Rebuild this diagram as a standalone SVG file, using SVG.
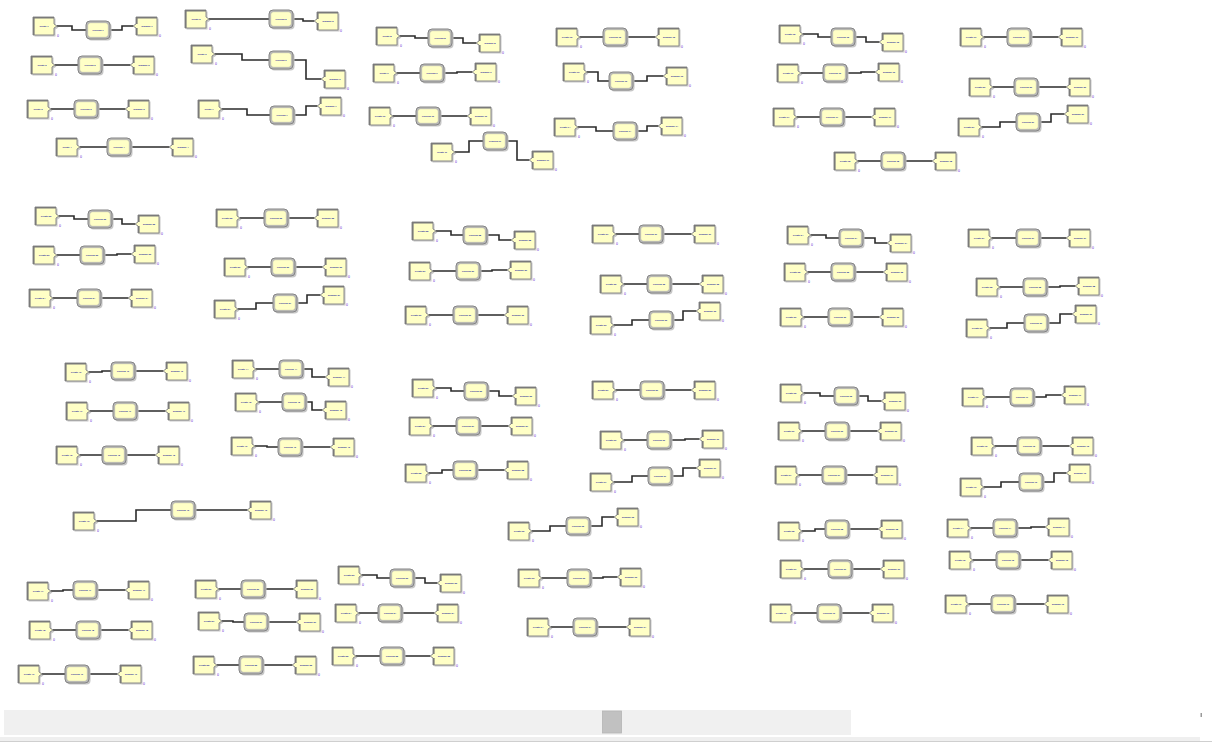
<svg xmlns="http://www.w3.org/2000/svg" xmlns:xlink="http://www.w3.org/1999/xlink" width="1212" height="742" viewBox="0 0 1212 742">
<style>
.nd text{font-family:"Liberation Sans",Arial,sans-serif;font-size:2.3px;font-weight:bold;fill:#23239a;text-anchor:middle}
.cnt{font-family:"Liberation Sans",Arial,sans-serif;font-size:3.5px;fill:#5a2ad0}
#connectors path{fill:none;stroke:#2b2b2b;stroke-width:1.6}
</style>
<defs>
<g id="cr">
<polygon points="1.5,1.5 22.5,1.5 22.5,8.5 25.5,10.5 22.5,12.5 22.5,19.5 1.5,19.5" fill="#c6c6c6"/>
<polygon points="0,0 21,0 21,7 24,9 21,11 21,18 0,18" fill="#ffffc6" stroke="#8c8c8c" stroke-width="1"/>
<path d="M0.8,18V0.8H21" fill="none" stroke="#7a7a7a" stroke-width="1.6"/>
<text class="cnt" x="24" y="20">0</text>
</g>
<g id="pr">
<rect x="1.5" y="1.5" width="24" height="18" rx="4" fill="#c6c6c6"/>
<rect x="0" y="0" width="24" height="18" rx="4" fill="#bababa" stroke="#858585" stroke-width="1"/>
<rect x="1.7" y="1.7" width="20.6" height="14.6" rx="3" fill="#ffffc6" stroke="#a0a0a0" stroke-width="0.5"/>
</g>
<g id="dp">
<polygon points="4.5,1.5 25.5,1.5 25.5,19.5 4.5,19.5" fill="#c6c6c6"/>
<polygon points="3,0 24,0 24,18 3,18 3,11 0,9 3,7" fill="#ffffc6" stroke="#8c8c8c" stroke-width="1"/>
<path d="M3.8,18V11M3.8,7V0.8H24" fill="none" stroke="#7a7a7a" stroke-width="1.6"/>
<text class="cnt" x="26" y="20">0</text>
</g>
</defs>
<rect width="1212" height="742" fill="#fff"/>
<g id="connectors">
<path d="M57,26H72V30H86M110,30H122V26H133"/>
<path d="M55,65H78M102,65H130"/>
<path d="M51,109H74M98,109H125"/>
<path d="M80,147H107M131,147H169"/>
<path d="M209,19H269M293,19H303V21H314"/>
<path d="M215,54H242V60H269M293,60H306V79H321"/>
<path d="M222,109H247V115H270M294,115H306V106H317"/>
<path d="M400,36H415V38H428M452,38H463V43H476"/>
<path d="M397,73H420M444,73H457V72H472"/>
<path d="M393,116H416M440,116H467"/>
<path d="M455,152H469V141H483M507,141H517V160H529"/>
<path d="M580,37H603M627,37H655"/>
<path d="M587,72H598V81H609M633,81H647V76H663"/>
<path d="M578,127H596V131H613M637,131H647V126H658"/>
<path d="M803,34H818V37H831M855,37H866V42H879"/>
<path d="M801,73H823M847,73H861V72H875"/>
<path d="M797,117H820M844,117H871"/>
<path d="M858,161H881M905,161H932"/>
<path d="M984,37H1007M1031,37H1058"/>
<path d="M993,87H1014M1038,87H1066"/>
<path d="M982,127H1000V122H1016M1040,122H1051V114H1064"/>
<path d="M59,216H74V219H88M112,219H122V224H135"/>
<path d="M57,255H80M104,255H117V254H131"/>
<path d="M53,298H77M101,298H128"/>
<path d="M240,218H264M288,218H314"/>
<path d="M248,267H271M295,267H322"/>
<path d="M238,309H256V303H273M297,303H307V295H320"/>
<path d="M436,231H451V235H463M487,235H499V240H511"/>
<path d="M433,271H456M480,271H492V270H507"/>
<path d="M429,315H453M477,315H504"/>
<path d="M616,234H639M663,234H691"/>
<path d="M624,284H647M671,284H699"/>
<path d="M614,325H632V320H649M673,320H683V311H696"/>
<path d="M811,235H826V238H839M863,238H875V243H887"/>
<path d="M808,272H831M855,272H883"/>
<path d="M804,317H828M852,317H879"/>
<path d="M992,238H1016M1040,238H1066"/>
<path d="M1000,287H1023M1047,287H1060V286H1075"/>
<path d="M990,328H1007V323H1024M1048,323H1060V314H1072"/>
<path d="M89,372H102V371H111M135,371H163"/>
<path d="M90,411H113M137,411H165"/>
<path d="M80,455H102M126,455H155"/>
<path d="M97,521H136V510H171M195,510H247"/>
<path d="M256,369H279M303,369H312V377H325"/>
<path d="M259,402H282M306,402H312V410H322"/>
<path d="M255,446H267V447H278M302,447H330"/>
<path d="M51,591H63V590H73M97,590H125"/>
<path d="M53,630H76M100,630H128"/>
<path d="M42,674H65M89,674H117"/>
<path d="M219,589H241M265,589H293"/>
<path d="M222,621H233V622H244M268,622H296"/>
<path d="M217,665H239M263,665H292"/>
<path d="M362,575H377V578H390M414,578H425V583H437"/>
<path d="M359,613H378M402,613H434"/>
<path d="M356,656H380M404,656H430"/>
<path d="M436,388H451V391H464M488,391H499V396H512"/>
<path d="M433,426H456M480,426H508"/>
<path d="M429,473H442V470H453M477,470H504"/>
<path d="M616,390H640M664,390H691"/>
<path d="M624,440H647M671,440H685V439H699"/>
<path d="M614,482H632V476H648M672,476H683V468H696"/>
<path d="M532,531H550V526H566M590,526H602V517H614"/>
<path d="M542,578H567M591,578H603V577H617"/>
<path d="M551,627H573M597,627H626"/>
<path d="M804,393H820V396H834M858,396H868V401H881"/>
<path d="M802,431H825M849,431H877"/>
<path d="M799,475H822M846,475H873"/>
<path d="M802,531H815V529H825M849,529H878"/>
<path d="M804,569H828M852,569H880"/>
<path d="M794,613H817M841,613H869"/>
<path d="M986,397H1010M1034,397H1046V395H1061"/>
<path d="M995,446H1017M1041,446H1069"/>
<path d="M984,487H1001V482H1019M1043,482H1054V473H1066"/>
<path d="M971,528H993M1017,528H1031V527H1045"/>
<path d="M973,560H996M1020,560H1048"/>
<path d="M969,604H991M1015,604H1044"/>
</g>
<g class="nd">
<g id="create1" transform="translate(33,17)"><use href="#cr"/><text x="11" y="9.5">Create 1</text></g>
<g id="process1" transform="translate(86,21)"><use href="#pr"/><text x="12" y="9.5">Process 1</text></g>
<g id="dispose1" transform="translate(133,17)"><use href="#dp"/><text x="14" y="9.5">Dispose 1</text></g>
<g id="create2" transform="translate(31,56)"><use href="#cr"/><text x="11" y="9.5">Create 2</text></g>
<g id="process2" transform="translate(78,56)"><use href="#pr"/><text x="12" y="9.5">Process 2</text></g>
<g id="dispose2" transform="translate(130,56)"><use href="#dp"/><text x="14" y="9.5">Dispose 2</text></g>
<g id="create3" transform="translate(27,100)"><use href="#cr"/><text x="11" y="9.5">Create 3</text></g>
<g id="process3" transform="translate(74,100)"><use href="#pr"/><text x="12" y="9.5">Process 3</text></g>
<g id="dispose3" transform="translate(125,100)"><use href="#dp"/><text x="14" y="9.5">Dispose 3</text></g>
<g id="create4" transform="translate(56,138)"><use href="#cr"/><text x="11" y="9.5">Create 4</text></g>
<g id="process4" transform="translate(107,138)"><use href="#pr"/><text x="12" y="9.5">Process 4</text></g>
<g id="dispose4" transform="translate(169,138)"><use href="#dp"/><text x="14" y="9.5">Dispose 4</text></g>
<g id="create5" transform="translate(185,10)"><use href="#cr"/><text x="11" y="9.5">Create 5</text></g>
<g id="process5" transform="translate(269,10)"><use href="#pr"/><text x="12" y="9.5">Process 5</text></g>
<g id="dispose5" transform="translate(314,12)"><use href="#dp"/><text x="14" y="9.5">Dispose 5</text></g>
<g id="create6" transform="translate(191,45)"><use href="#cr"/><text x="11" y="9.5">Create 6</text></g>
<g id="process6" transform="translate(269,51)"><use href="#pr"/><text x="12" y="9.5">Process 6</text></g>
<g id="dispose6" transform="translate(321,70)"><use href="#dp"/><text x="14" y="9.5">Dispose 6</text></g>
<g id="create7" transform="translate(198,100)"><use href="#cr"/><text x="11" y="9.5">Create 7</text></g>
<g id="process7" transform="translate(270,106)"><use href="#pr"/><text x="12" y="9.5">Process 7</text></g>
<g id="dispose7" transform="translate(317,97)"><use href="#dp"/><text x="14" y="9.5">Dispose 7</text></g>
<g id="create8" transform="translate(376,27)"><use href="#cr"/><text x="11" y="9.5">Create 8</text></g>
<g id="process8" transform="translate(428,29)"><use href="#pr"/><text x="12" y="9.5">Process 8</text></g>
<g id="dispose8" transform="translate(476,34)"><use href="#dp"/><text x="14" y="9.5">Dispose 8</text></g>
<g id="create9" transform="translate(373,64)"><use href="#cr"/><text x="11" y="9.5">Create 9</text></g>
<g id="process9" transform="translate(420,64)"><use href="#pr"/><text x="12" y="9.5">Process 9</text></g>
<g id="dispose9" transform="translate(472,63)"><use href="#dp"/><text x="14" y="9.5">Dispose 9</text></g>
<g id="create10" transform="translate(369,107)"><use href="#cr"/><text x="11" y="9.5">Create 10</text></g>
<g id="process10" transform="translate(416,107)"><use href="#pr"/><text x="12" y="9.5">Process 10</text></g>
<g id="dispose10" transform="translate(467,107)"><use href="#dp"/><text x="14" y="9.5">Dispose 10</text></g>
<g id="create11" transform="translate(431,143)"><use href="#cr"/><text x="11" y="9.5">Create 11</text></g>
<g id="process11" transform="translate(483,132)"><use href="#pr"/><text x="12" y="9.5">Process 11</text></g>
<g id="dispose11" transform="translate(529,151)"><use href="#dp"/><text x="14" y="9.5">Dispose 11</text></g>
<g id="create12" transform="translate(556,28)"><use href="#cr"/><text x="11" y="9.5">Create 12</text></g>
<g id="process12" transform="translate(603,28)"><use href="#pr"/><text x="12" y="9.5">Process 12</text></g>
<g id="dispose12" transform="translate(655,28)"><use href="#dp"/><text x="14" y="9.5">Dispose 12</text></g>
<g id="create13" transform="translate(563,63)"><use href="#cr"/><text x="11" y="9.5">Create 13</text></g>
<g id="process13" transform="translate(609,72)"><use href="#pr"/><text x="12" y="9.5">Process 13</text></g>
<g id="dispose13" transform="translate(663,67)"><use href="#dp"/><text x="14" y="9.5">Dispose 13</text></g>
<g id="create14" transform="translate(554,118)"><use href="#cr"/><text x="11" y="9.5">Create 14</text></g>
<g id="process14" transform="translate(613,122)"><use href="#pr"/><text x="12" y="9.5">Process 14</text></g>
<g id="dispose14" transform="translate(658,117)"><use href="#dp"/><text x="14" y="9.5">Dispose 14</text></g>
<g id="create15" transform="translate(779,25)"><use href="#cr"/><text x="11" y="9.5">Create 15</text></g>
<g id="process15" transform="translate(831,28)"><use href="#pr"/><text x="12" y="9.5">Process 15</text></g>
<g id="dispose15" transform="translate(879,33)"><use href="#dp"/><text x="14" y="9.5">Dispose 15</text></g>
<g id="create16" transform="translate(777,64)"><use href="#cr"/><text x="11" y="9.5">Create 16</text></g>
<g id="process16" transform="translate(823,64)"><use href="#pr"/><text x="12" y="9.5">Process 16</text></g>
<g id="dispose16" transform="translate(875,63)"><use href="#dp"/><text x="14" y="9.5">Dispose 16</text></g>
<g id="create17" transform="translate(773,108)"><use href="#cr"/><text x="11" y="9.5">Create 17</text></g>
<g id="process17" transform="translate(820,108)"><use href="#pr"/><text x="12" y="9.5">Process 17</text></g>
<g id="dispose17" transform="translate(871,108)"><use href="#dp"/><text x="14" y="9.5">Dispose 17</text></g>
<g id="create18" transform="translate(834,152)"><use href="#cr"/><text x="11" y="9.5">Create 18</text></g>
<g id="process18" transform="translate(881,152)"><use href="#pr"/><text x="12" y="9.5">Process 18</text></g>
<g id="dispose18" transform="translate(932,152)"><use href="#dp"/><text x="14" y="9.5">Dispose 18</text></g>
<g id="create19" transform="translate(960,28)"><use href="#cr"/><text x="11" y="9.5">Create 19</text></g>
<g id="process19" transform="translate(1007,28)"><use href="#pr"/><text x="12" y="9.5">Process 19</text></g>
<g id="dispose19" transform="translate(1058,28)"><use href="#dp"/><text x="14" y="9.5">Dispose 19</text></g>
<g id="create20" transform="translate(969,78)"><use href="#cr"/><text x="11" y="9.5">Create 20</text></g>
<g id="process20" transform="translate(1014,78)"><use href="#pr"/><text x="12" y="9.5">Process 20</text></g>
<g id="dispose20" transform="translate(1066,78)"><use href="#dp"/><text x="14" y="9.5">Dispose 20</text></g>
<g id="create21" transform="translate(958,118)"><use href="#cr"/><text x="11" y="9.5">Create 21</text></g>
<g id="process21" transform="translate(1016,113)"><use href="#pr"/><text x="12" y="9.5">Process 21</text></g>
<g id="dispose21" transform="translate(1064,105)"><use href="#dp"/><text x="14" y="9.5">Dispose 21</text></g>
<g id="create22" transform="translate(35,207)"><use href="#cr"/><text x="11" y="9.5">Create 22</text></g>
<g id="process22" transform="translate(88,210)"><use href="#pr"/><text x="12" y="9.5">Process 22</text></g>
<g id="dispose22" transform="translate(135,215)"><use href="#dp"/><text x="14" y="9.5">Dispose 22</text></g>
<g id="create23" transform="translate(33,246)"><use href="#cr"/><text x="11" y="9.5">Create 23</text></g>
<g id="process23" transform="translate(80,246)"><use href="#pr"/><text x="12" y="9.5">Process 23</text></g>
<g id="dispose23" transform="translate(131,245)"><use href="#dp"/><text x="14" y="9.5">Dispose 23</text></g>
<g id="create24" transform="translate(29,289)"><use href="#cr"/><text x="11" y="9.5">Create 24</text></g>
<g id="process24" transform="translate(77,289)"><use href="#pr"/><text x="12" y="9.5">Process 24</text></g>
<g id="dispose24" transform="translate(128,289)"><use href="#dp"/><text x="14" y="9.5">Dispose 24</text></g>
<g id="create25" transform="translate(216,209)"><use href="#cr"/><text x="11" y="9.5">Create 25</text></g>
<g id="process25" transform="translate(264,209)"><use href="#pr"/><text x="12" y="9.5">Process 25</text></g>
<g id="dispose25" transform="translate(314,209)"><use href="#dp"/><text x="14" y="9.5">Dispose 25</text></g>
<g id="create26" transform="translate(224,258)"><use href="#cr"/><text x="11" y="9.5">Create 26</text></g>
<g id="process26" transform="translate(271,258)"><use href="#pr"/><text x="12" y="9.5">Process 26</text></g>
<g id="dispose26" transform="translate(322,258)"><use href="#dp"/><text x="14" y="9.5">Dispose 26</text></g>
<g id="create27" transform="translate(214,300)"><use href="#cr"/><text x="11" y="9.5">Create 27</text></g>
<g id="process27" transform="translate(273,294)"><use href="#pr"/><text x="12" y="9.5">Process 27</text></g>
<g id="dispose27" transform="translate(320,286)"><use href="#dp"/><text x="14" y="9.5">Dispose 27</text></g>
<g id="create28" transform="translate(412,222)"><use href="#cr"/><text x="11" y="9.5">Create 28</text></g>
<g id="process28" transform="translate(463,226)"><use href="#pr"/><text x="12" y="9.5">Process 28</text></g>
<g id="dispose28" transform="translate(511,231)"><use href="#dp"/><text x="14" y="9.5">Dispose 28</text></g>
<g id="create29" transform="translate(409,262)"><use href="#cr"/><text x="11" y="9.5">Create 29</text></g>
<g id="process29" transform="translate(456,262)"><use href="#pr"/><text x="12" y="9.5">Process 29</text></g>
<g id="dispose29" transform="translate(507,261)"><use href="#dp"/><text x="14" y="9.5">Dispose 29</text></g>
<g id="create30" transform="translate(405,306)"><use href="#cr"/><text x="11" y="9.5">Create 30</text></g>
<g id="process30" transform="translate(453,306)"><use href="#pr"/><text x="12" y="9.5">Process 30</text></g>
<g id="dispose30" transform="translate(504,306)"><use href="#dp"/><text x="14" y="9.5">Dispose 30</text></g>
<g id="create31" transform="translate(592,225)"><use href="#cr"/><text x="11" y="9.5">Create 31</text></g>
<g id="process31" transform="translate(639,225)"><use href="#pr"/><text x="12" y="9.5">Process 31</text></g>
<g id="dispose31" transform="translate(691,225)"><use href="#dp"/><text x="14" y="9.5">Dispose 31</text></g>
<g id="create32" transform="translate(600,275)"><use href="#cr"/><text x="11" y="9.5">Create 32</text></g>
<g id="process32" transform="translate(647,275)"><use href="#pr"/><text x="12" y="9.5">Process 32</text></g>
<g id="dispose32" transform="translate(699,275)"><use href="#dp"/><text x="14" y="9.5">Dispose 32</text></g>
<g id="create33" transform="translate(590,316)"><use href="#cr"/><text x="11" y="9.5">Create 33</text></g>
<g id="process33" transform="translate(649,311)"><use href="#pr"/><text x="12" y="9.5">Process 33</text></g>
<g id="dispose33" transform="translate(696,302)"><use href="#dp"/><text x="14" y="9.5">Dispose 33</text></g>
<g id="create34" transform="translate(787,226)"><use href="#cr"/><text x="11" y="9.5">Create 34</text></g>
<g id="process34" transform="translate(839,229)"><use href="#pr"/><text x="12" y="9.5">Process 34</text></g>
<g id="dispose34" transform="translate(887,234)"><use href="#dp"/><text x="14" y="9.5">Dispose 34</text></g>
<g id="create35" transform="translate(784,263)"><use href="#cr"/><text x="11" y="9.5">Create 35</text></g>
<g id="process35" transform="translate(831,263)"><use href="#pr"/><text x="12" y="9.5">Process 35</text></g>
<g id="dispose35" transform="translate(883,263)"><use href="#dp"/><text x="14" y="9.5">Dispose 35</text></g>
<g id="create36" transform="translate(780,308)"><use href="#cr"/><text x="11" y="9.5">Create 36</text></g>
<g id="process36" transform="translate(828,308)"><use href="#pr"/><text x="12" y="9.5">Process 36</text></g>
<g id="dispose36" transform="translate(879,308)"><use href="#dp"/><text x="14" y="9.5">Dispose 36</text></g>
<g id="create37" transform="translate(968,229)"><use href="#cr"/><text x="11" y="9.5">Create 37</text></g>
<g id="process37" transform="translate(1016,229)"><use href="#pr"/><text x="12" y="9.5">Process 37</text></g>
<g id="dispose37" transform="translate(1066,229)"><use href="#dp"/><text x="14" y="9.5">Dispose 37</text></g>
<g id="create38" transform="translate(976,278)"><use href="#cr"/><text x="11" y="9.5">Create 38</text></g>
<g id="process38" transform="translate(1023,278)"><use href="#pr"/><text x="12" y="9.5">Process 38</text></g>
<g id="dispose38" transform="translate(1075,277)"><use href="#dp"/><text x="14" y="9.5">Dispose 38</text></g>
<g id="create39" transform="translate(966,319)"><use href="#cr"/><text x="11" y="9.5">Create 39</text></g>
<g id="process39" transform="translate(1024,314)"><use href="#pr"/><text x="12" y="9.5">Process 39</text></g>
<g id="dispose39" transform="translate(1072,305)"><use href="#dp"/><text x="14" y="9.5">Dispose 39</text></g>
<g id="create40" transform="translate(65,363)"><use href="#cr"/><text x="11" y="9.5">Create 40</text></g>
<g id="process40" transform="translate(111,362)"><use href="#pr"/><text x="12" y="9.5">Process 40</text></g>
<g id="dispose40" transform="translate(163,362)"><use href="#dp"/><text x="14" y="9.5">Dispose 40</text></g>
<g id="create41" transform="translate(66,402)"><use href="#cr"/><text x="11" y="9.5">Create 41</text></g>
<g id="process41" transform="translate(113,402)"><use href="#pr"/><text x="12" y="9.5">Process 41</text></g>
<g id="dispose41" transform="translate(165,402)"><use href="#dp"/><text x="14" y="9.5">Dispose 41</text></g>
<g id="create42" transform="translate(56,446)"><use href="#cr"/><text x="11" y="9.5">Create 42</text></g>
<g id="process42" transform="translate(102,446)"><use href="#pr"/><text x="12" y="9.5">Process 42</text></g>
<g id="dispose42" transform="translate(155,446)"><use href="#dp"/><text x="14" y="9.5">Dispose 42</text></g>
<g id="create43" transform="translate(73,512)"><use href="#cr"/><text x="11" y="9.5">Create 43</text></g>
<g id="process43" transform="translate(171,501)"><use href="#pr"/><text x="12" y="9.5">Process 43</text></g>
<g id="dispose43" transform="translate(247,501)"><use href="#dp"/><text x="14" y="9.5">Dispose 43</text></g>
<g id="create44" transform="translate(232,360)"><use href="#cr"/><text x="11" y="9.5">Create 44</text></g>
<g id="process44" transform="translate(279,360)"><use href="#pr"/><text x="12" y="9.5">Process 44</text></g>
<g id="dispose44" transform="translate(325,368)"><use href="#dp"/><text x="14" y="9.5">Dispose 44</text></g>
<g id="create45" transform="translate(235,393)"><use href="#cr"/><text x="11" y="9.5">Create 45</text></g>
<g id="process45" transform="translate(282,393)"><use href="#pr"/><text x="12" y="9.5">Process 45</text></g>
<g id="dispose45" transform="translate(322,401)"><use href="#dp"/><text x="14" y="9.5">Dispose 45</text></g>
<g id="create46" transform="translate(231,437)"><use href="#cr"/><text x="11" y="9.5">Create 46</text></g>
<g id="process46" transform="translate(278,438)"><use href="#pr"/><text x="12" y="9.5">Process 46</text></g>
<g id="dispose46" transform="translate(330,438)"><use href="#dp"/><text x="14" y="9.5">Dispose 46</text></g>
<g id="create47" transform="translate(27,582)"><use href="#cr"/><text x="11" y="9.5">Create 47</text></g>
<g id="process47" transform="translate(73,581)"><use href="#pr"/><text x="12" y="9.5">Process 47</text></g>
<g id="dispose47" transform="translate(125,581)"><use href="#dp"/><text x="14" y="9.5">Dispose 47</text></g>
<g id="create48" transform="translate(29,621)"><use href="#cr"/><text x="11" y="9.5">Create 48</text></g>
<g id="process48" transform="translate(76,621)"><use href="#pr"/><text x="12" y="9.5">Process 48</text></g>
<g id="dispose48" transform="translate(128,621)"><use href="#dp"/><text x="14" y="9.5">Dispose 48</text></g>
<g id="create49" transform="translate(18,665)"><use href="#cr"/><text x="11" y="9.5">Create 49</text></g>
<g id="process49" transform="translate(65,665)"><use href="#pr"/><text x="12" y="9.5">Process 49</text></g>
<g id="dispose49" transform="translate(117,665)"><use href="#dp"/><text x="14" y="9.5">Dispose 49</text></g>
<g id="create50" transform="translate(195,580)"><use href="#cr"/><text x="11" y="9.5">Create 50</text></g>
<g id="process50" transform="translate(241,580)"><use href="#pr"/><text x="12" y="9.5">Process 50</text></g>
<g id="dispose50" transform="translate(293,580)"><use href="#dp"/><text x="14" y="9.5">Dispose 50</text></g>
<g id="create51" transform="translate(198,612)"><use href="#cr"/><text x="11" y="9.5">Create 51</text></g>
<g id="process51" transform="translate(244,613)"><use href="#pr"/><text x="12" y="9.5">Process 51</text></g>
<g id="dispose51" transform="translate(296,613)"><use href="#dp"/><text x="14" y="9.5">Dispose 51</text></g>
<g id="create52" transform="translate(193,656)"><use href="#cr"/><text x="11" y="9.5">Create 52</text></g>
<g id="process52" transform="translate(239,656)"><use href="#pr"/><text x="12" y="9.5">Process 52</text></g>
<g id="dispose52" transform="translate(292,656)"><use href="#dp"/><text x="14" y="9.5">Dispose 52</text></g>
<g id="create53" transform="translate(338,566)"><use href="#cr"/><text x="11" y="9.5">Create 53</text></g>
<g id="process53" transform="translate(390,569)"><use href="#pr"/><text x="12" y="9.5">Process 53</text></g>
<g id="dispose53" transform="translate(437,574)"><use href="#dp"/><text x="14" y="9.5">Dispose 53</text></g>
<g id="create54" transform="translate(335,604)"><use href="#cr"/><text x="11" y="9.5">Create 54</text></g>
<g id="process54" transform="translate(378,604)"><use href="#pr"/><text x="12" y="9.5">Process 54</text></g>
<g id="dispose54" transform="translate(434,604)"><use href="#dp"/><text x="14" y="9.5">Dispose 54</text></g>
<g id="create55" transform="translate(332,647)"><use href="#cr"/><text x="11" y="9.5">Create 55</text></g>
<g id="process55" transform="translate(380,647)"><use href="#pr"/><text x="12" y="9.5">Process 55</text></g>
<g id="dispose55" transform="translate(430,647)"><use href="#dp"/><text x="14" y="9.5">Dispose 55</text></g>
<g id="create56" transform="translate(412,379)"><use href="#cr"/><text x="11" y="9.5">Create 56</text></g>
<g id="process56" transform="translate(464,382)"><use href="#pr"/><text x="12" y="9.5">Process 56</text></g>
<g id="dispose56" transform="translate(512,387)"><use href="#dp"/><text x="14" y="9.5">Dispose 56</text></g>
<g id="create57" transform="translate(409,417)"><use href="#cr"/><text x="11" y="9.5">Create 57</text></g>
<g id="process57" transform="translate(456,417)"><use href="#pr"/><text x="12" y="9.5">Process 57</text></g>
<g id="dispose57" transform="translate(508,417)"><use href="#dp"/><text x="14" y="9.5">Dispose 57</text></g>
<g id="create58" transform="translate(405,464)"><use href="#cr"/><text x="11" y="9.5">Create 58</text></g>
<g id="process58" transform="translate(453,461)"><use href="#pr"/><text x="12" y="9.5">Process 58</text></g>
<g id="dispose58" transform="translate(504,461)"><use href="#dp"/><text x="14" y="9.5">Dispose 58</text></g>
<g id="create59" transform="translate(592,381)"><use href="#cr"/><text x="11" y="9.5">Create 59</text></g>
<g id="process59" transform="translate(640,381)"><use href="#pr"/><text x="12" y="9.5">Process 59</text></g>
<g id="dispose59" transform="translate(691,381)"><use href="#dp"/><text x="14" y="9.5">Dispose 59</text></g>
<g id="create60" transform="translate(600,431)"><use href="#cr"/><text x="11" y="9.5">Create 60</text></g>
<g id="process60" transform="translate(647,431)"><use href="#pr"/><text x="12" y="9.5">Process 60</text></g>
<g id="dispose60" transform="translate(699,430)"><use href="#dp"/><text x="14" y="9.5">Dispose 60</text></g>
<g id="create61" transform="translate(590,473)"><use href="#cr"/><text x="11" y="9.5">Create 61</text></g>
<g id="process61" transform="translate(648,467)"><use href="#pr"/><text x="12" y="9.5">Process 61</text></g>
<g id="dispose61" transform="translate(696,459)"><use href="#dp"/><text x="14" y="9.5">Dispose 61</text></g>
<g id="create62" transform="translate(508,522)"><use href="#cr"/><text x="11" y="9.5">Create 62</text></g>
<g id="process62" transform="translate(566,517)"><use href="#pr"/><text x="12" y="9.5">Process 62</text></g>
<g id="dispose62" transform="translate(614,508)"><use href="#dp"/><text x="14" y="9.5">Dispose 62</text></g>
<g id="create63" transform="translate(518,569)"><use href="#cr"/><text x="11" y="9.5">Create 63</text></g>
<g id="process63" transform="translate(567,569)"><use href="#pr"/><text x="12" y="9.5">Process 63</text></g>
<g id="dispose63" transform="translate(617,568)"><use href="#dp"/><text x="14" y="9.5">Dispose 63</text></g>
<g id="create64" transform="translate(527,618)"><use href="#cr"/><text x="11" y="9.5">Create 64</text></g>
<g id="process64" transform="translate(573,618)"><use href="#pr"/><text x="12" y="9.5">Process 64</text></g>
<g id="dispose64" transform="translate(626,618)"><use href="#dp"/><text x="14" y="9.5">Dispose 64</text></g>
<g id="create65" transform="translate(780,384)"><use href="#cr"/><text x="11" y="9.5">Create 65</text></g>
<g id="process65" transform="translate(834,387)"><use href="#pr"/><text x="12" y="9.5">Process 65</text></g>
<g id="dispose65" transform="translate(881,392)"><use href="#dp"/><text x="14" y="9.5">Dispose 65</text></g>
<g id="create66" transform="translate(778,422)"><use href="#cr"/><text x="11" y="9.5">Create 66</text></g>
<g id="process66" transform="translate(825,422)"><use href="#pr"/><text x="12" y="9.5">Process 66</text></g>
<g id="dispose66" transform="translate(877,422)"><use href="#dp"/><text x="14" y="9.5">Dispose 66</text></g>
<g id="create67" transform="translate(775,466)"><use href="#cr"/><text x="11" y="9.5">Create 67</text></g>
<g id="process67" transform="translate(822,466)"><use href="#pr"/><text x="12" y="9.5">Process 67</text></g>
<g id="dispose67" transform="translate(873,466)"><use href="#dp"/><text x="14" y="9.5">Dispose 67</text></g>
<g id="create68" transform="translate(778,522)"><use href="#cr"/><text x="11" y="9.5">Create 68</text></g>
<g id="process68" transform="translate(825,520)"><use href="#pr"/><text x="12" y="9.5">Process 68</text></g>
<g id="dispose68" transform="translate(878,520)"><use href="#dp"/><text x="14" y="9.5">Dispose 68</text></g>
<g id="create69" transform="translate(780,560)"><use href="#cr"/><text x="11" y="9.5">Create 69</text></g>
<g id="process69" transform="translate(828,560)"><use href="#pr"/><text x="12" y="9.5">Process 69</text></g>
<g id="dispose69" transform="translate(880,560)"><use href="#dp"/><text x="14" y="9.5">Dispose 69</text></g>
<g id="create70" transform="translate(770,604)"><use href="#cr"/><text x="11" y="9.5">Create 70</text></g>
<g id="process70" transform="translate(817,604)"><use href="#pr"/><text x="12" y="9.5">Process 70</text></g>
<g id="dispose70" transform="translate(869,604)"><use href="#dp"/><text x="14" y="9.5">Dispose 70</text></g>
<g id="create71" transform="translate(962,388)"><use href="#cr"/><text x="11" y="9.5">Create 71</text></g>
<g id="process71" transform="translate(1010,388)"><use href="#pr"/><text x="12" y="9.5">Process 71</text></g>
<g id="dispose71" transform="translate(1061,386)"><use href="#dp"/><text x="14" y="9.5">Dispose 71</text></g>
<g id="create72" transform="translate(971,437)"><use href="#cr"/><text x="11" y="9.5">Create 72</text></g>
<g id="process72" transform="translate(1017,437)"><use href="#pr"/><text x="12" y="9.5">Process 72</text></g>
<g id="dispose72" transform="translate(1069,437)"><use href="#dp"/><text x="14" y="9.5">Dispose 72</text></g>
<g id="create73" transform="translate(960,478)"><use href="#cr"/><text x="11" y="9.5">Create 73</text></g>
<g id="process73" transform="translate(1019,473)"><use href="#pr"/><text x="12" y="9.5">Process 73</text></g>
<g id="dispose73" transform="translate(1066,464)"><use href="#dp"/><text x="14" y="9.5">Dispose 73</text></g>
<g id="create74" transform="translate(947,519)"><use href="#cr"/><text x="11" y="9.5">Create 74</text></g>
<g id="process74" transform="translate(993,519)"><use href="#pr"/><text x="12" y="9.5">Process 74</text></g>
<g id="dispose74" transform="translate(1045,518)"><use href="#dp"/><text x="14" y="9.5">Dispose 74</text></g>
<g id="create75" transform="translate(949,551)"><use href="#cr"/><text x="11" y="9.5">Create 75</text></g>
<g id="process75" transform="translate(996,551)"><use href="#pr"/><text x="12" y="9.5">Process 75</text></g>
<g id="dispose75" transform="translate(1048,551)"><use href="#dp"/><text x="14" y="9.5">Dispose 75</text></g>
<g id="create76" transform="translate(945,595)"><use href="#cr"/><text x="11" y="9.5">Create 76</text></g>
<g id="process76" transform="translate(991,595)"><use href="#pr"/><text x="12" y="9.5">Process 76</text></g>
<g id="dispose76" transform="translate(1044,595)"><use href="#dp"/><text x="14" y="9.5">Dispose 76</text></g>
</g>
<g id="scrollbar">
<rect x="4" y="710" width="847" height="25" fill="#f0f0f0"/>
<rect x="602.5" y="711" width="19" height="22" fill="#c1c1c1" stroke="#b4b4b4" stroke-width="0.8"/>
<rect x="1200.5" y="713" width="1.5" height="4" fill="#9a9a9a"/>
<rect x="0" y="737" width="1200" height="4" fill="#efefef"/>
<rect x="0" y="741" width="1212" height="1" fill="#cfcfcf"/>
</g>
</svg>
